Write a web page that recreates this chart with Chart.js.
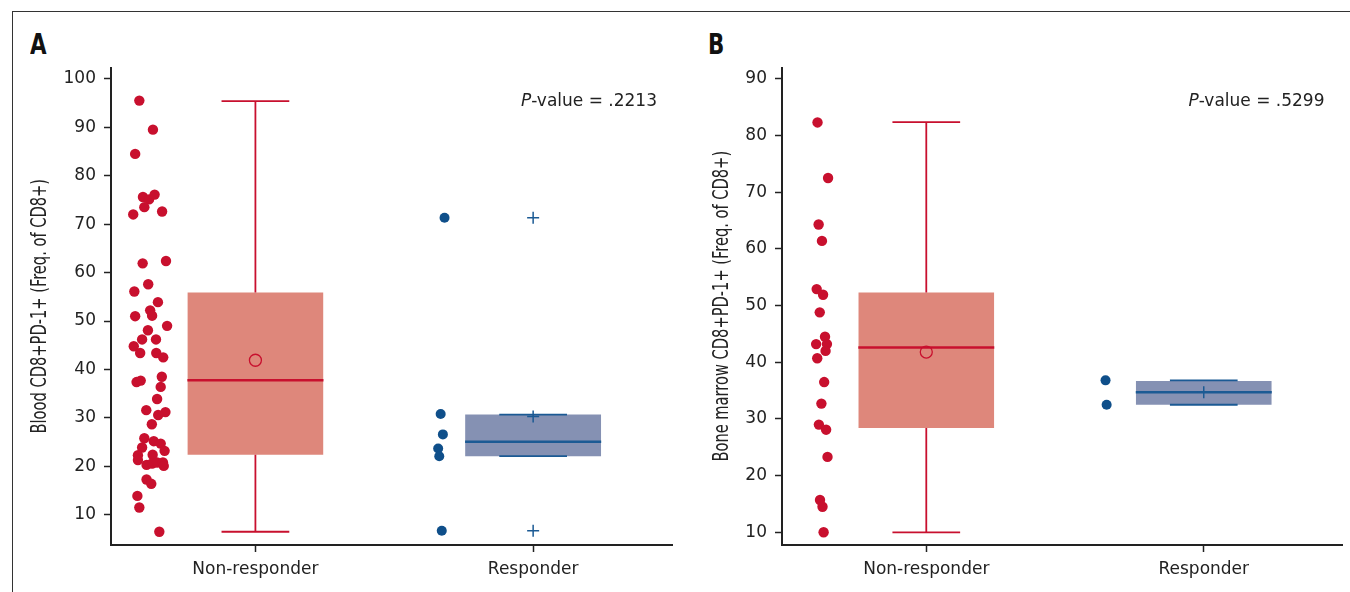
<!DOCTYPE html>
<html>
<head>
<meta charset="utf-8">
<script src="https://cdn.jsdelivr.net/npm/chart.js@4.4.1/dist/chart.umd.min.js"></script>
<style>
    body { margin: 0; background: #fff; width: 1350px; height: 592px; position: relative; overflow: hidden; }
    .frame { position: absolute; left: 12px; top: 11px; right: 0; bottom: 0; border-top: 1.5px solid #333; border-left: 1.5px solid #333; }
    .panel { position: absolute; top: 60px; height: 530px; width: 660px; }
    #panelA { left: 20px; }
    #panelB { left: 690px; }
    .letter { position: absolute; font: bold 28px 'DejaVu Sans Condensed', sans-serif; color: #111; line-height: 1;
              transform: scaleX(0.85); transform-origin: left top; }
</style>
</head>
<body>
<div class="frame"></div>
<div class="letter" style="left:30px; top:31px;">A</div>
<div class="letter" style="left:708px; top:31px;">B</div>
<div class="panel" id="panelA"><canvas id="chartA"></canvas></div>
<div class="panel" id="panelB"><canvas id="chartB"></canvas></div>

<script>
// categorias
const categories = ["Non-responder", "Responder"];

// panel A: sangre
const bloodNonResp = [95.5, 89.5, 84.5, 75.6, 75.1, 76.1, 73.5, 72.0, 72.6, 61.9, 62.4, 57.6, 56.1, 53.9, 52.2, 51.0, 51.1, 49.0,
    48.1, 46.2, 46.2, 44.8, 43.4, 43.4, 42.5, 37.4, 37.7, 38.5, 36.4, 33.9, 31.6, 31.2, 30.6, 28.7, 25.8, 25.2, 24.7, 23.9,
    23.2, 22.3, 22.4, 21.3, 20.3, 20.6, 20.8, 20.8, 20.1, 17.3, 16.4, 13.9, 11.5, 6.5];
const bloodNonRespJitter = [-0.418, -0.369, -0.433, -0.405, -0.383, -0.363, -0.400, -0.440, -0.336, -0.406, -0.322, -0.386,
    -0.436, -0.351, -0.379, -0.433, -0.372, -0.318, -0.387, -0.408, -0.358, -0.438, -0.415, -0.357, -0.332, -0.428, -0.413,
    -0.337, -0.341, -0.354, -0.393, -0.324, -0.350, -0.373, -0.400, -0.366, -0.341, -0.408, -0.327, -0.423, -0.370, -0.423,
    -0.392, -0.372, -0.354, -0.333, -0.330, -0.392, -0.375, -0.425, -0.418, -0.346];
const bloodResp = [71.3, 30.8, 26.6, 23.7, 22.1, 6.7];
const bloodRespJitter = [-0.319, -0.333, -0.325, -0.342, -0.338, -0.329];
const bloodQ1 = [22.4, 22.1];
const bloodMedian = [37.8, 25.1];
const bloodQ3 = [55.9, 30.7];
const bloodMean = [41.9, 30.3];
const bloodLow = [6.5, 22.1];
const bloodHigh = [95.4, 30.7];
const bloodOutliers = [[], [71.3, 6.7]];
const bloodTicks = [10, 20, 30, 40, 50, 60, 70, 80, 90, 100];

// panel B: medula osea
const marrowNonResp = [82.3, 72.5, 64.3, 61.4, 52.9, 51.9, 48.8, 44.5, 43.2, 43.2, 42.0, 40.7, 36.5, 32.7, 29.0, 28.1,
    23.3, 15.7, 14.5, 10.0];
const marrowNonRespJitter = [-0.392, -0.354, -0.388, -0.376, -0.395, -0.372, -0.384, -0.365, -0.397, -0.358, -0.363,
    -0.393, -0.368, -0.378, -0.387, -0.361, -0.356, -0.383, -0.374, -0.370];
const marrowResp = [36.8, 32.5];
const marrowRespJitter = [-0.354, -0.350];
const marrowQ1 = [28.4, 32.5];
const marrowMedian = [42.6, 34.7];
const marrowQ3 = [52.3, 36.7];
const marrowMean = [41.8, 34.7];
const marrowLow = [10.0, 32.5];
const marrowHigh = [82.35, 36.8];
const marrowOutliers = [[], []];
const marrowTicks = [10, 20, 30, 40, 50, 60, 70, 80, 90];

const pValues = [".2213", ".5299"];

// estilos
const RED = "#c8102e";
const RED_BOX = "#de877b";
const BLUE = "#0f4f8a";
const BLUE_LINE = "#1b5a94";
const BLUE_BOX = "#8591b3";
const INK = "#222";
const BOX_HALF = 0.245;
const CAP_HALF = 0.122;

// texto del p-valor
const pValuePlugin = {
    id: "pvalue",
    afterDraw(chart, args, opts) {
        const ctx = chart.ctx;
        const area = chart.chartArea;
        const rest = "-value = " + opts.text;
        ctx.save();
        ctx.fillStyle = INK;
        ctx.textAlign = "left";
        ctx.textBaseline = "alphabetic";
        ctx.font = "17px 'DejaVu Sans'";
        const wRest = ctx.measureText(rest).width;
        ctx.font = "italic 17px 'DejaVu Sans'";
        const wP = ctx.measureText("P").width;
        const xEnd = area.right - opts.offset;
        const y = area.top + 38;
        ctx.fillText("P", xEnd - wRest - wP, y);
        ctx.font = "17px 'DejaVu Sans'";
        ctx.fillText(rest, xEnd - wRest, y);
        ctx.restore();
    }
};

// titulo del eje y (letra estrecha)
const axisTitlePlugin = {
    id: "axistitle",
    afterDraw(chart, args, opts) {
        const ctx = chart.ctx;
        const area = chart.chartArea;
        ctx.save();
        ctx.translate(opts.x, (area.top + area.bottom) / 2);
        ctx.rotate(-Math.PI / 2);
        ctx.scale(0.74, 1);
        ctx.fillStyle = INK;
        ctx.textAlign = "center";
        ctx.textBaseline = "middle";
        ctx.font = "22px 'DejaVu Sans Condensed', 'DejaVu Sans'";
        ctx.fillText(opts.text, 0, 0);
        ctx.restore();
    }
};

function whiskerPoints(i, q1, q3, low, high) {
    const c = i + 1;
    return [
        { x: c - CAP_HALF, y: high[i] }, { x: c + CAP_HALF, y: high[i] }, { x: c, y: null },
        { x: c, y: high[i] }, { x: c, y: q3[i] }, { x: c, y: null },
        { x: c, y: q1[i] }, { x: c, y: low[i] }, { x: c, y: null },
        { x: c - CAP_HALF, y: low[i] }, { x: c + CAP_HALF, y: low[i] }
    ];
}

function buildChart(canvasId, d) {
    const lineColors = [RED, BLUE_LINE];
    const boxColors = [RED_BOX, BLUE_BOX];
    const datasets = [];

    // puntos individuales
    datasets.push({
        type: "scatter",
        data: d.nonResp.map((v, i) => ({ x: 1 + d.nonRespJitter[i], y: v })),
        backgroundColor: RED, borderWidth: 0, pointRadius: 5.2, pointHoverRadius: 5.2
    });
    datasets.push({
        type: "scatter",
        data: d.resp.map((v, i) => ({ x: 2 + d.respJitter[i], y: v })),
        backgroundColor: BLUE, borderWidth: 0, pointRadius: 5, pointHoverRadius: 5
    });

    // medias
    datasets.push({
        type: "scatter",
        data: [{ x: 1, y: d.mean[0] }],
        pointStyle: "circle", pointRadius: 6, backgroundColor: "rgba(0,0,0,0)",
        borderColor: RED, borderWidth: 1.3
    });
    datasets.push({
        type: "scatter",
        data: [{ x: 2, y: d.mean[1] }],
        pointStyle: "cross", pointRadius: 6, borderColor: BLUE_LINE, borderWidth: 1.5
    });

    // atipicos
    datasets.push({
        type: "scatter",
        data: d.outliers.flatMap((arr, i) => arr.map(v => ({ x: i + 1, y: v }))),
        pointStyle: "cross", pointRadius: 6, borderColor: BLUE_LINE, borderWidth: 1.5
    });

    // medianas
    [0, 1].forEach(i => {
        datasets.push({
            type: "line",
            data: [{ x: i + 1 - BOX_HALF, y: d.median[i] }, { x: i + 1 + BOX_HALF, y: d.median[i] }],
            borderColor: lineColors[i], borderWidth: 2.5, pointRadius: 0, fill: false
        });
    });

    // bigotes
    [0, 1].forEach(i => {
        datasets.push({
            type: "line",
            data: whiskerPoints(i, d.q1, d.q3, d.low, d.high),
            borderColor: lineColors[i], borderWidth: 1.8, pointRadius: 0, fill: false, spanGaps: false
        });
    });

    // cajas
    [0, 1].forEach(i => {
        datasets.push({
            type: "line",
            data: [{ x: i + 1 - BOX_HALF, y: d.q3[i] }, { x: i + 1 + BOX_HALF, y: d.q3[i] }],
            borderWidth: 0, borderColor: "rgba(0,0,0,0)", pointRadius: 0,
            backgroundColor: boxColors[i], fill: { value: d.q1[i] }
        });
    });

    const ctx = document.getElementById(canvasId).getContext("2d");

    return new Chart(ctx, {
        type: "scatter",
        data: { datasets: datasets },
        plugins: [pValuePlugin, axisTitlePlugin],
        options: {
            responsive: true,
            maintainAspectRatio: false,
            animation: false,
            layout: { padding: { top: 7, right: d.padRight, left: 0, bottom: 0 } },
            plugins: {
                legend: { display: false },
                tooltip: { enabled: false },
                pvalue: { text: d.pValue, offset: d.pOffset },
                axistitle: { text: d.title, x: d.titleX }
            },
            scales: {
                x: {
                    type: "linear",
                    min: 0.48,
                    max: 2.5,
                    afterFit: s => { s.height = 45; s.paddingLeft = 0; s.paddingRight = 0; },
                    afterBuildTicks: s => { s.ticks = [{ value: 1 }, { value: 2 }]; },
                    border: { display: true, color: INK, width: 2 },
                    grid: { drawOnChartArea: false, drawTicks: true, tickLength: 7, tickWidth: 1.5, tickColor: INK },
                    ticks: {
                        color: INK,
                        padding: 7,
                        font: { family: "'DejaVu Sans'", size: 17 },
                        maxRotation: 0,
                        callback: v => categories[v - 1]
                    }
                },
                y: {
                    min: d.yMin,
                    max: d.yMax,
                    afterFit: s => { s.width = d.yWidth; s.paddingTop = 0; s.paddingBottom = 0; },
                    afterBuildTicks: s => { s.ticks = d.ticks.map(v => ({ value: v })); },
                    border: { display: true, color: INK, width: 2 },
                    grid: { drawOnChartArea: false, drawTicks: true, tickLength: 7, tickWidth: 1.5, tickColor: INK },
                    ticks: {
                        color: INK,
                        padding: 8,
                        font: { family: "'DejaVu Sans'", size: 17 }
                    }
                }
            }
        }
    });
}

// inicial
buildChart("chartA", {
    nonResp: bloodNonResp, nonRespJitter: bloodNonRespJitter,
    resp: bloodResp, respJitter: bloodRespJitter,
    q1: bloodQ1, median: bloodMedian, q3: bloodQ3, mean: bloodMean,
    low: bloodLow, high: bloodHigh, outliers: bloodOutliers,
    ticks: bloodTicks, yMin: 3.77, yMax: 102.33,
    title: "Blood CD8+PD-1+ (Freq. of CD8+)", titleX: 20.5,
    pValue: pValues[0], pOffset: 15,
    yWidth: 91, padRight: 8
});

buildChart("chartB", {
    nonResp: marrowNonResp, nonRespJitter: marrowNonRespJitter,
    resp: marrowResp, respJitter: marrowRespJitter,
    q1: marrowQ1, median: marrowMedian, q3: marrowQ3, mean: marrowMean,
    low: marrowLow, high: marrowHigh, outliers: marrowOutliers,
    ticks: marrowTicks, yMin: 7.76, yMax: 91.99,
    title: "Bone marrow CD8+PD-1+ (Freq. of CD8+)", titleX: 32,
    pValue: pValues[1], pOffset: 18,
    yWidth: 92, padRight: 4
});
</script>
</body>
</html>
